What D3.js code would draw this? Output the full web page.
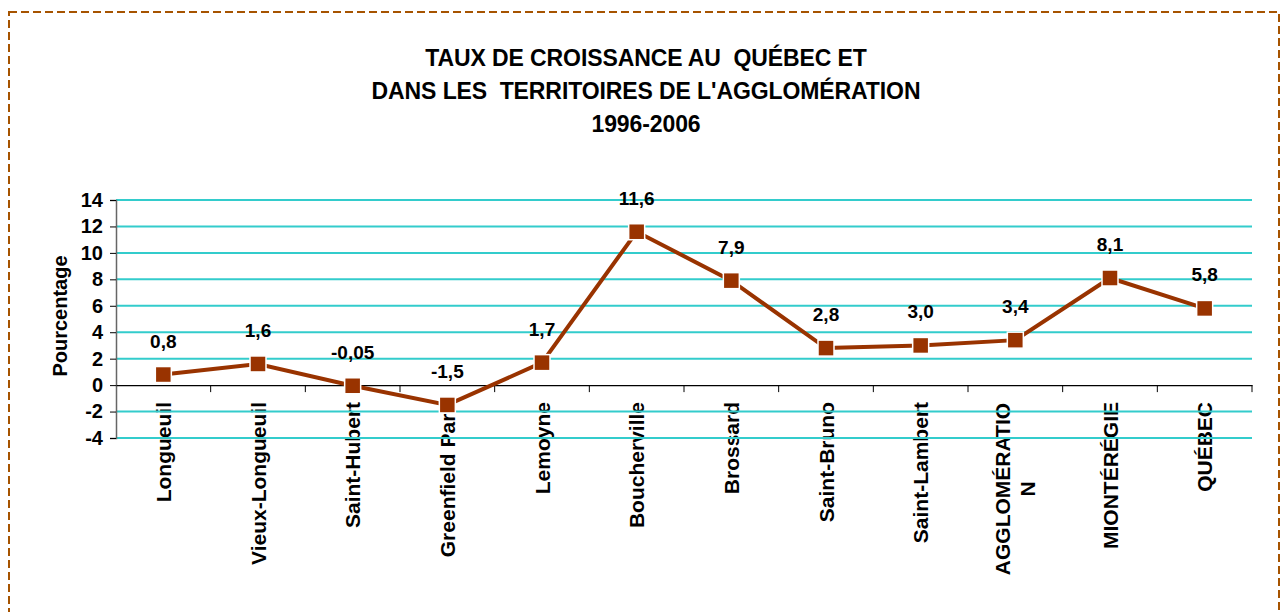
<!DOCTYPE html>
<html lang="fr">
<head>
<meta charset="UTF-8">
<title>Taux de croissance</title>
<script src="https://d3js.org/d3.v7.min.js"></script>
<style>
  body { margin: 0; background: #fff; }
  text { font-family: "Liberation Sans", Arial, sans-serif; font-weight: bold; fill: #000; white-space: pre; }
</style>
</head>
<body>
<div id="chart"></div>
<script>
// Data
const categories = ["Longueuil", "Vieux-Longueuil", "Saint-Hubert", "Greenfield Park", "Lemoyne",
  "Boucherville", "Brossard", "Saint-Bruno", "Saint-Lambert", "AGGLOMÉRATIO\nN", "MIONTÉRÉGIE", "QUÉBEC"];
const values = [0.8, 1.6, -0.05, -1.5, 1.7, 11.6, 7.9, 2.8, 3.0, 3.4, 8.1, 5.8];
const valueLabels = ["0,8", "1,6", "-0,05", "-1,5", "1,7", "11,6", "7,9", "2,8", "3,0", "3,4", "8,1", "5,8"];
const yTicks = [-4, -2, 0, 2, 4, 6, 8, 10, 12, 14];
const titleLines = ["TAUX DE CROISSANCE AU  QUÉBEC ET", "DANS LES  TERRITOIRES DE L'AGGLOMÉRATION", "1996-2006"];

const W = 1282, H = 612;
const plot = { left: 116, right: 1252, top: 200, bottom: 438 };

const svg = d3.select("#chart").append("svg")
  .attr("width", W).attr("height", H);

// dashed frame
svg.append("rect")
  .attr("x", 9).attr("y", 12)
  .attr("width", 1270).attr("height", 640)
  .attr("fill", "none")
  .attr("stroke", "#A65300")
  .attr("stroke-width", 2)
  .attr("stroke-dasharray", "8,4");

// title
svg.append("g").selectAll("text")
  .data(titleLines).enter().append("text")
  .attr("x", 646)
  .attr("y", (d, i) => 66 + i * 33)
  .attr("text-anchor", "middle")
  .style("font-size", "23px")
  .style("letter-spacing", "-0.1px")
  .text(d => d);

const x = d3.scaleBand().domain(categories).range([plot.left, plot.right]);
const y = d3.scaleLinear().domain([-4, 14]).range([plot.bottom, plot.top]);
const cx = i => x(categories[i]) + x.bandwidth() / 2;

// category labels (drawn under the grid lines)
const catG = svg.append("g").selectAll("text")
  .data(categories).enter().append("text")
  .attr("transform", d => `translate(${x(d) + x.bandwidth() / 2},402) rotate(-90)`)
  .style("font-size", "21px");
catG.each(function(d) {
  const lines = d.split("\n");
  const t = d3.select(this);
  if (lines.length === 1) {
    t.append("tspan").attr("x", 0).attr("dy", "0.36em")
      .attr("text-anchor", "end").text(d);
  } else {
    // centred block, longest line anchored at the top
    const w0 = 174;
    lines.forEach((l, i) => {
      t.append("tspan")
        .attr("x", -w0 / 2)
        .attr("y", (i - (lines.length - 1) / 2) * 25)
        .attr("dy", "0.36em")
        .attr("text-anchor", "middle")
        .text(l);
    });
  }
});

// grid lines
svg.append("g").selectAll("line")
  .data(yTicks.filter(d => d !== 0)).enter().append("line")
  .attr("x1", plot.left).attr("x2", plot.right)
  .attr("y1", d => y(d)).attr("y2", d => y(d))
  .attr("stroke", "#33CCCC")
  .attr("stroke-width", 2);

// y axis
const yAxis = svg.append("g")
  .attr("transform", `translate(${plot.left},0)`)
  .call(d3.axisLeft(y).tickValues(yTicks).tickSize(6).tickPadding(0).tickFormat(d => String(d)));
yAxis.select(".domain").attr("stroke", "#666").attr("stroke-width", 1.5);
yAxis.selectAll(".tick line").attr("stroke", "#000");
yAxis.selectAll("text")
  .style("font-size", "20px")
  .style("font-family", "Liberation Sans, Arial, sans-serif")
  .style("font-weight", "bold")
  .attr("x", -13);

// x axis at zero
const xAxis = svg.append("g")
  .attr("transform", `translate(0,${y(0)})`)
  .call(d3.axisBottom(x).tickSize(0).tickFormat(""));
xAxis.select(".domain").attr("stroke", "#000").attr("stroke-width", 1.2);
svg.append("g").selectAll("line")
  .data(categories).enter().append("line")
  .attr("x1", d => x(d) + x.bandwidth()).attr("x2", d => x(d) + x.bandwidth())
  .attr("y1", y(0)).attr("y2", y(0) + 7)
  .attr("stroke", "#000").attr("stroke-width", 1);

// y axis title
svg.append("text")
  .attr("transform", "translate(60,316) rotate(-90)")
  .attr("text-anchor", "middle")
  .attr("dy", "0.36em")
  .style("font-size", "20px")
  .text("Pourcentage");

// line
const line = d3.line()
  .x((d, i) => cx(i))
  .y(d => y(d));
svg.append("path")
  .datum(values)
  .attr("d", line)
  .attr("fill", "none")
  .attr("stroke", "#993300")
  .attr("stroke-width", 4);

// markers
svg.append("g").selectAll("rect")
  .data(values).enter().append("rect")
  .attr("x", (d, i) => cx(i) - 8)
  .attr("y", d => y(d) - 8)
  .attr("width", 16).attr("height", 16)
  .attr("fill", "#993300")
  .attr("stroke", "#fff")
  .attr("stroke-width", 1.5);

// value labels
svg.append("g").selectAll("text")
  .data(values).enter().append("text")
  .attr("x", (d, i) => cx(i))
  .attr("y", d => y(d) - 27)
  .attr("text-anchor", "middle")
  .style("font-size", "19px")
  .text((d, i) => valueLabels[i]);
</script>
</body>
</html>
